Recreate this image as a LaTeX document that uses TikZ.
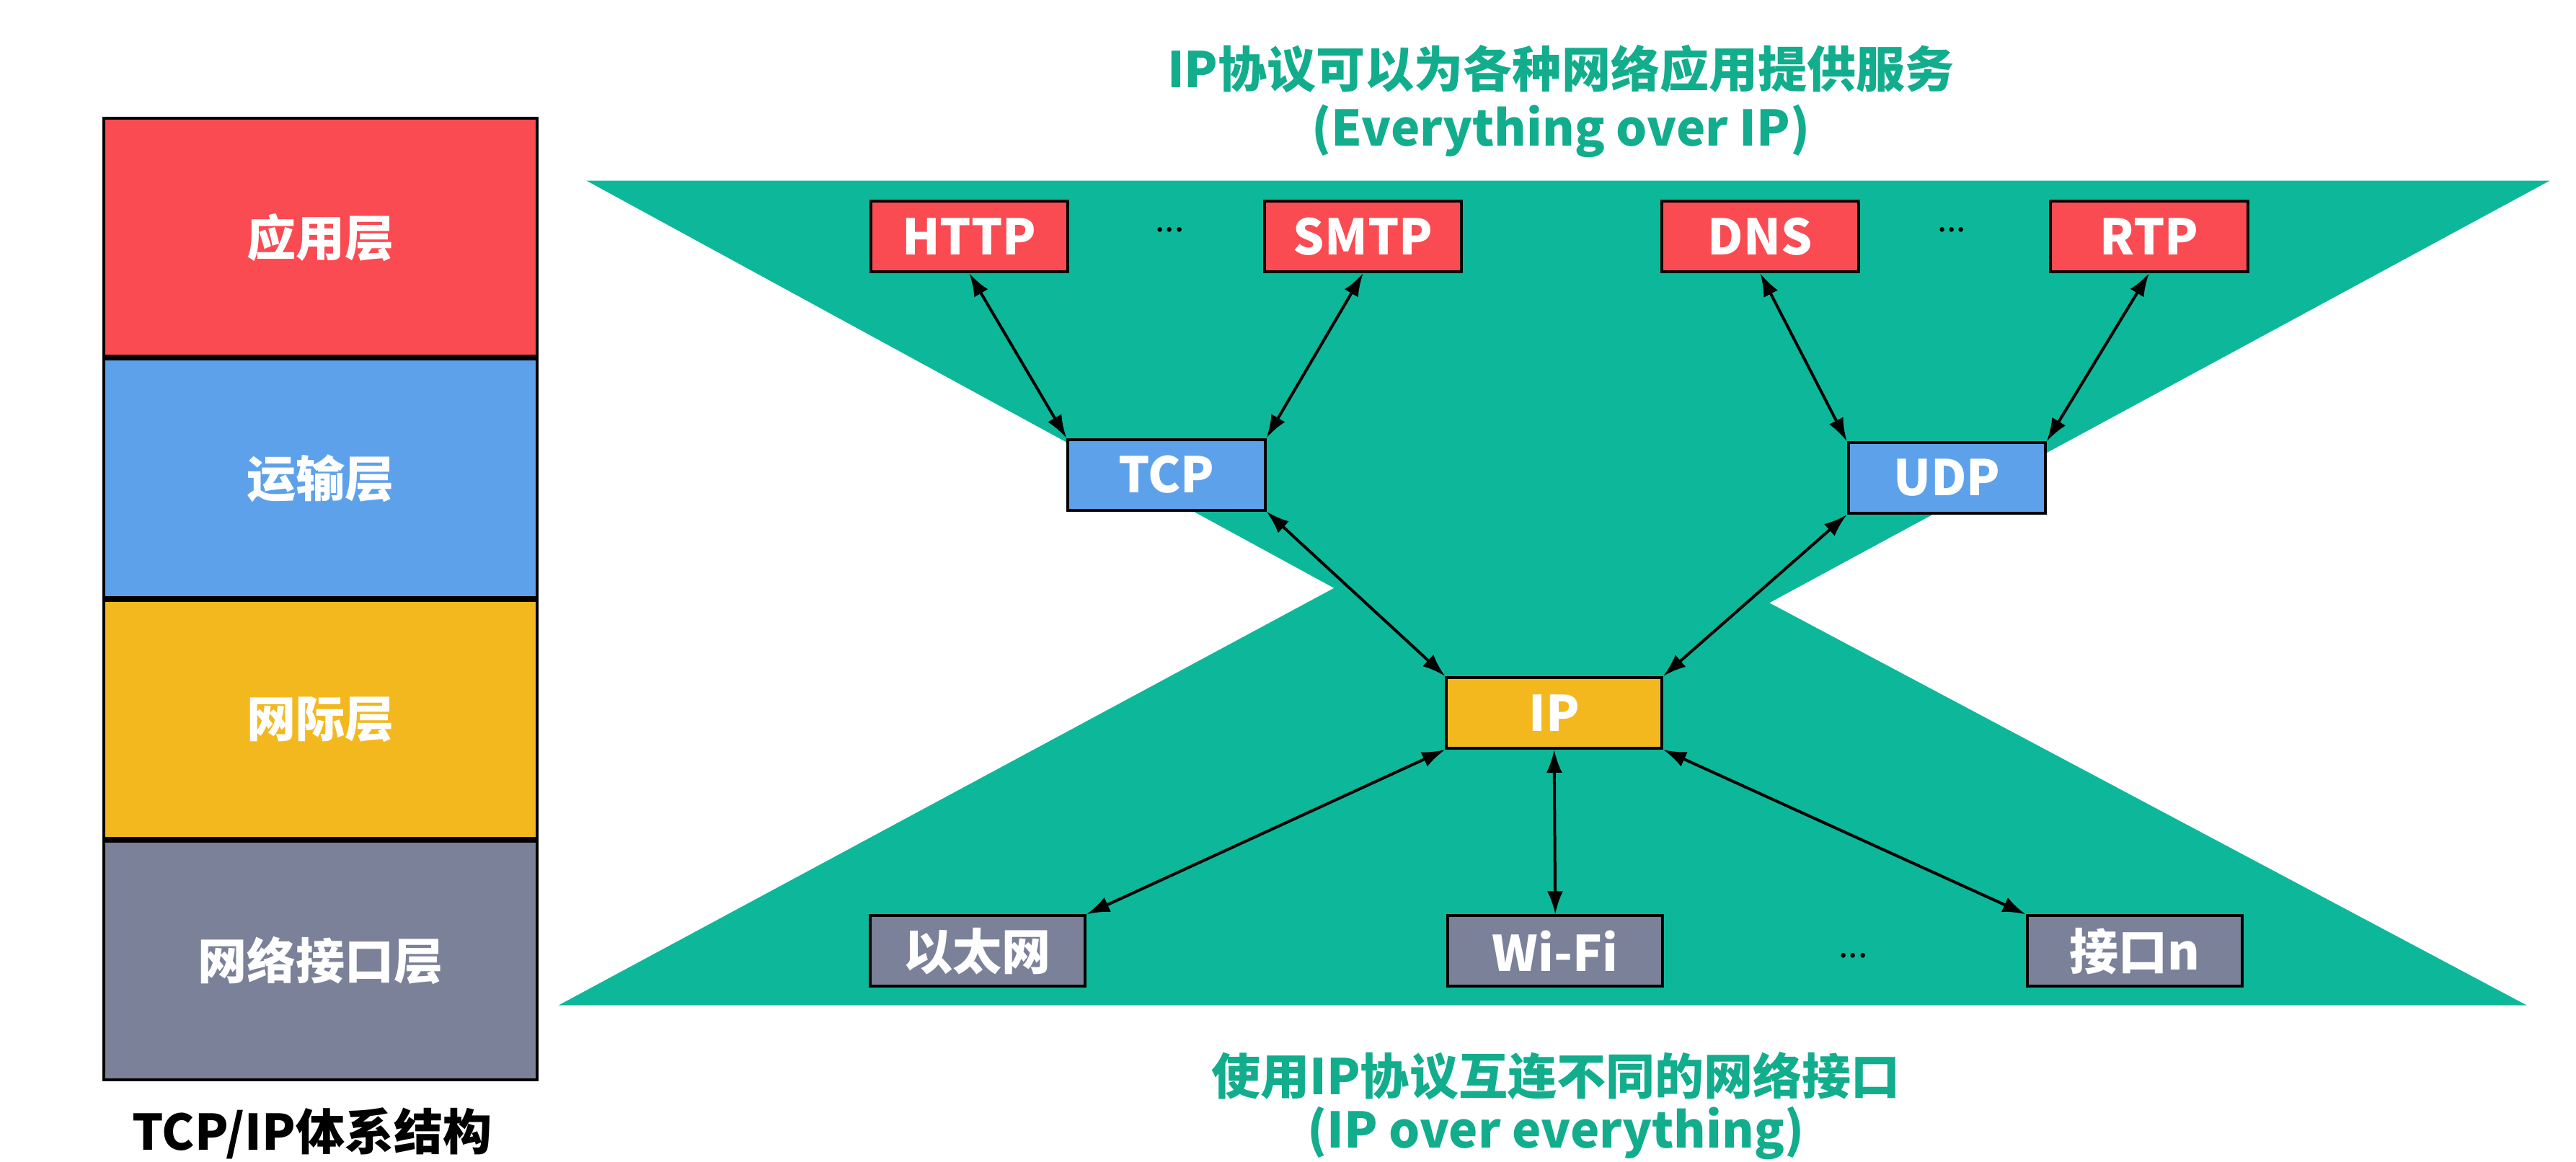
\documentclass[tikz,border=0pt]{standalone}
\usepackage{fontspec}
\setmainfont{Noto Sans CJK SC}
\usetikzlibrary{positioning,arrows.meta}
\definecolor{appred}{HTML}{FA4B52}
\definecolor{tpblue}{HTML}{5EA1EB}
\definecolor{netyellow}{HTML}{F4B81F}
\definecolor{ifgray}{HTML}{7A8199}
\definecolor{hourgreen}{HTML}{0DB89A}
\definecolor{titlegreen}{HTML}{12AD8C}
\tikzset{
  layer/.style={draw=black, line width=1pt, fill=#1, minimum width=5.28cm, minimum height=2.9cm,
    text=white, font=\fontsize{17}{20}\selectfont\bfseries},
  proto/.style={draw=black, line width=1pt, fill=#1, minimum width=2.4cm, minimum height=0.86cm,
    inner sep=0pt, text=white, font=\fontsize{17}{20}\selectfont\bfseries},
  wideproto/.style={proto=#1, minimum width=2.62cm},
  link/.style={<->, >={Latex[length=8pt,width=5.5pt]}, line width=1pt},
  caption/.style={text=titlegreen, font=\fontsize{17}{20}\selectfont\bfseries},
  gap/.style={font=\fontsize{12}{14}\selectfont}
}
\begin{document}
\begin{tikzpicture}[x=0.02cm, y=-0.02cm]
    \useasboundingbox (0,0) rectangle (1568,707);
    \node[layer=appred] (app) at (195,144.5) {应用层};
    \node[layer=tpblue, below=0pt of app] (trans) {运输层};
    \node[layer=netyellow, below=0pt of trans] (inet) {网际层};
    \node[layer=ifgray, below=0pt of inet] (netif) {网络接口层};
    \node[font=\fontsize{17}{20}\selectfont\bfseries] (stackname) at (190,690) {TCP/IP体系结构};

    \fill[hourgreen] (357,110) -- (1552,110) -- (1077,367) -- (1538,612) -- (340,612) -- (812,358) -- cycle;

    \node[caption] (topline) at (950,42) {IP协议可以为各种网络应用提供服务};
    \node[caption] (topsub) at (950,80) {(Everything over IP)};
    \node[caption] (botline) at (947,655) {使用IP协议互连不同的网络接口};
    \node[caption] (botsub) at (947,690) {(IP over everything)};

    \node[proto=appred] (http) at (590,144) {HTTP};
    \node[proto=appred, right=2.36cm of http] (smtp) {SMTP};
    \node[proto=appred, right=2.4cm of smtp] (dns) {DNS};
    \node[proto=appred, right=2.3cm of dns] (rtp) {RTP};
    \node[gap] (dotsa) at (712,140) {...};
    \node[gap] (dotsb) at (1188,140) {...};

    \node[proto=tpblue] (tcp) at (710,289) {TCP};
    \node[proto=tpblue] (udp) at (1185,291) {UDP};
    \node[wideproto=netyellow] (ip) at (946,434) {IP};

    \node[wideproto=ifgray] (eth) at (595,579) {以太网};
    \node[wideproto=ifgray, right=4.38cm of eth] (wifi) {Wi-Fi};
    \node[wideproto=ifgray, right=4.4cm of wifi] (ifn) {接口n};
    \node[gap] (dotsc) at (1128,582) {...};

    \draw[link] (http.south) -- (tcp.north west);
    \draw[link] (smtp.south) -- (tcp.north east);
    \draw[link] (dns.south) -- (udp.north west);
    \draw[link] (rtp.south) -- (udp.north east);
    \draw[link] (tcp.south east) -- (ip.north west);
    \draw[link] (udp.south west) -- (ip.north east);
    \draw[link] (ip.south west) -- (eth.north east);
    \draw[link] (ip.south) -- (wifi.north);
    \draw[link] (ip.south east) -- (ifn.north west);
\end{tikzpicture}
\end{document}
